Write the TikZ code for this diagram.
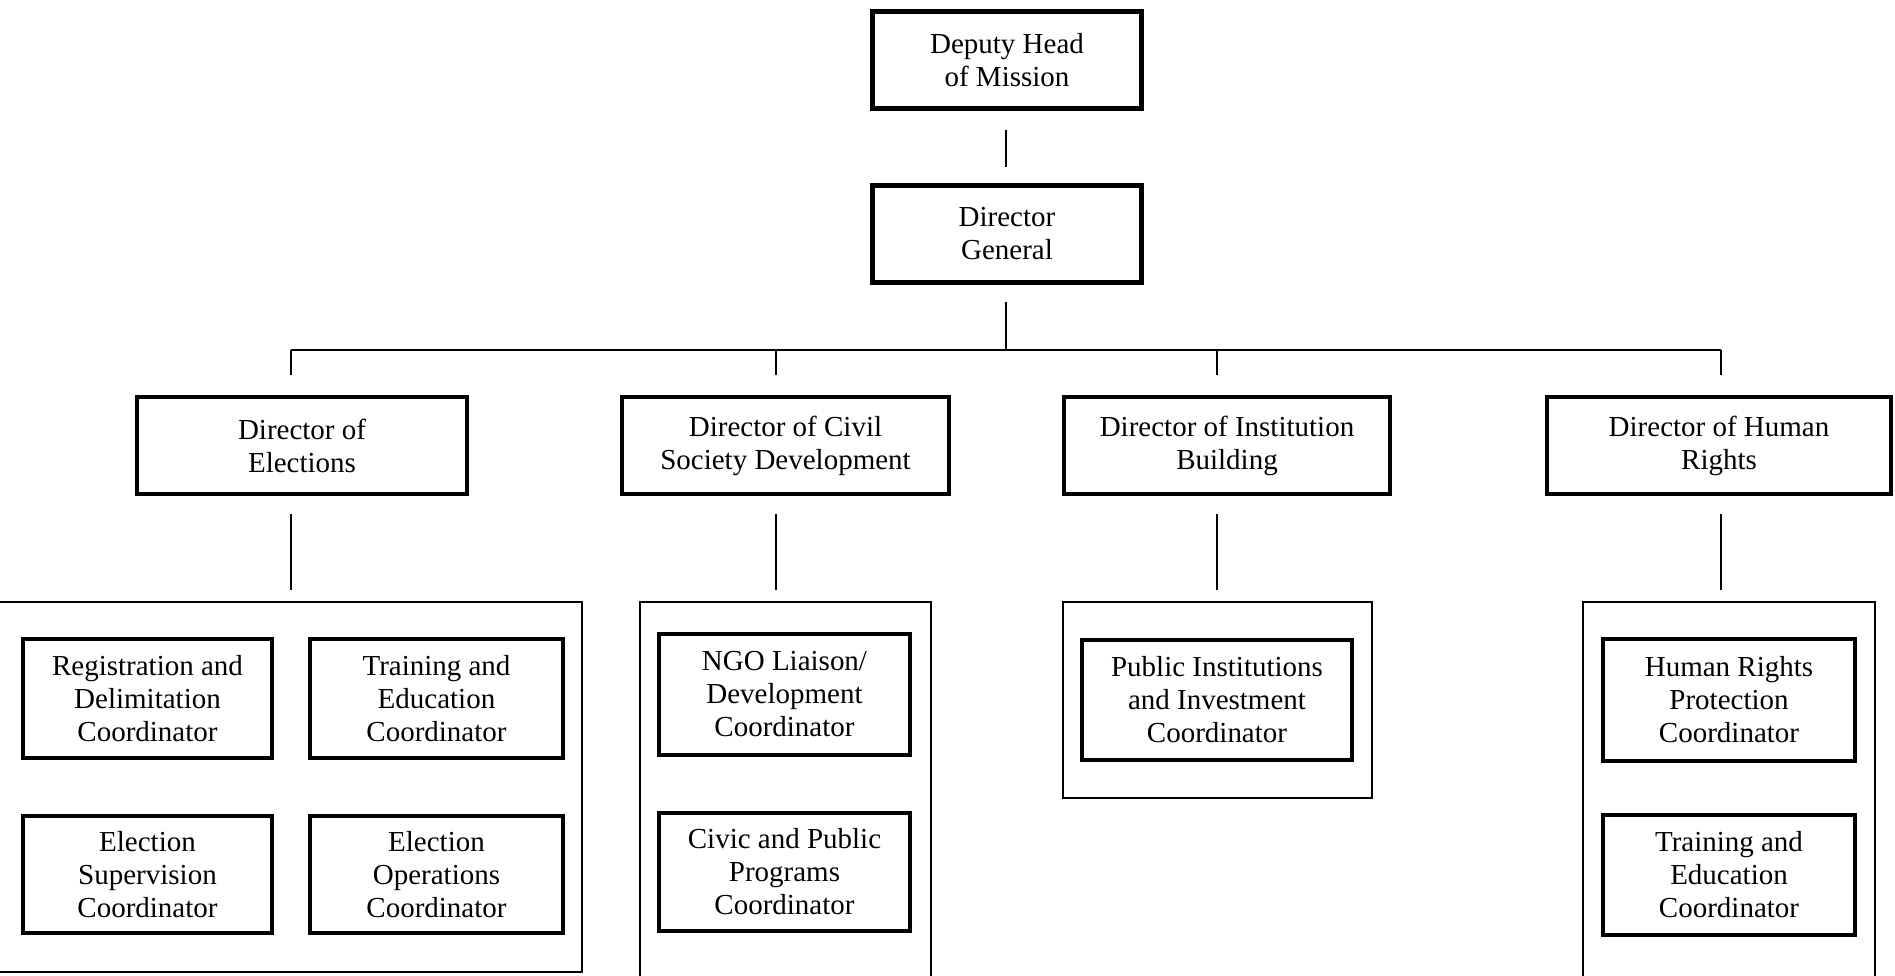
\documentclass[tikz,border=0pt]{standalone}
\usepackage{fontspec}
\setmainfont{Liberation Serif}
\begin{document}
\begin{tikzpicture}[x=0.02cm,y=-0.02cm]
	\tikzstyle{every node}+=[inner sep=0pt, align=center, font=\fontsize{16.5}{18.8}\selectfont]
	\tikzstyle{post}=[draw, line width=2.4pt, minimum height=1.94cm]
	\tikzstyle{unit}=[draw, line width=1.1pt]
	\tikzstyle{link}=[line width=1.1pt]
	\clip (0,0) rectangle (1895,976);
	% top of the mission
	\node [post, minimum width=5.38cm] (dhm) at (1007,60) {Deputy Head\\of Mission};
	\node [post, minimum width=5.38cm] (dg) at (1007,234) {Director\\General};
	% directors
	\node [post, minimum width=6.60cm] (elec) at (302,445.5) {Director of\\Elections};
	\node [post, minimum width=6.54cm] (civil) at (785.5,445.5) {Director of Civil\\Society Development};
	\node [post, minimum width=6.52cm] (inst) at (1227,445.5) {Director of Institution\\Building};
	\node [post, minimum width=6.88cm] (hr) at (1719,445.5) {Director of Human\\Rights};
	% units
	\draw [unit] (-10,602) rectangle (582,972);
	\draw [unit] (640,602) rectangle (931,990);
	\draw [unit] (1063,602) rectangle (1372,798);
	\draw [unit] (1583,602) rectangle (1875,990);
	% coordinators
	\node [post, minimum width=4.98cm, minimum height=2.38cm] (reg) at (147.5,698.5) {Registration and\\Delimitation\\Coordinator};
	\node [post, minimum width=5.06cm, minimum height=2.38cm] (traine) at (436.5,698.5) {Training and\\Education\\Coordinator};
	\node [post, minimum width=4.98cm, minimum height=2.34cm] (sup) at (147.5,874.5) {Election\\Supervision\\Coordinator};
	\node [post, minimum width=5.06cm, minimum height=2.34cm] (ops) at (436.5,874.5) {Election\\Operations\\Coordinator};
	\node [post, minimum width=5.02cm, minimum height=2.42cm] (ngo) at (784.5,694.5) {NGO Liaison/\\Development\\Coordinator};
	\node [post, minimum width=5.02cm, minimum height=2.36cm] (civic) at (784.5,872) {Civic and Public\\Programs\\Coordinator};
	\node [post, minimum width=5.40cm, minimum height=2.40cm] (pub) at (1217,700) {Public Institutions\\and Investment\\Coordinator};
	\node [post, minimum width=5.04cm, minimum height=2.44cm] (hrp) at (1729,700) {Human Rights\\Protection\\Coordinator};
	\node [post, minimum width=5.04cm, minimum height=2.40cm] (trainh) at (1729,875) {Training and\\Education\\Coordinator};
	% connectors
	\coordinate (a1) at (1006,130);
	\coordinate (a2) at (1006,167);
	\coordinate (b1) at (1006,302);
	\coordinate (b2) at (1006,350);
	\coordinate (bl) at (291,350);
	\coordinate (br) at (1721,350);
	\draw [link] (a1) -- (a2);
	\draw [link] (b1) -- (b2);
	\draw [link] (bl) -- (br);
	\foreach \x in {291,776,1217,1721} {
		\draw [link] (\x,350) -- (\x,375);
		\draw [link] (\x,514) -- (\x,590);
	}
\end{tikzpicture}
\end{document}
